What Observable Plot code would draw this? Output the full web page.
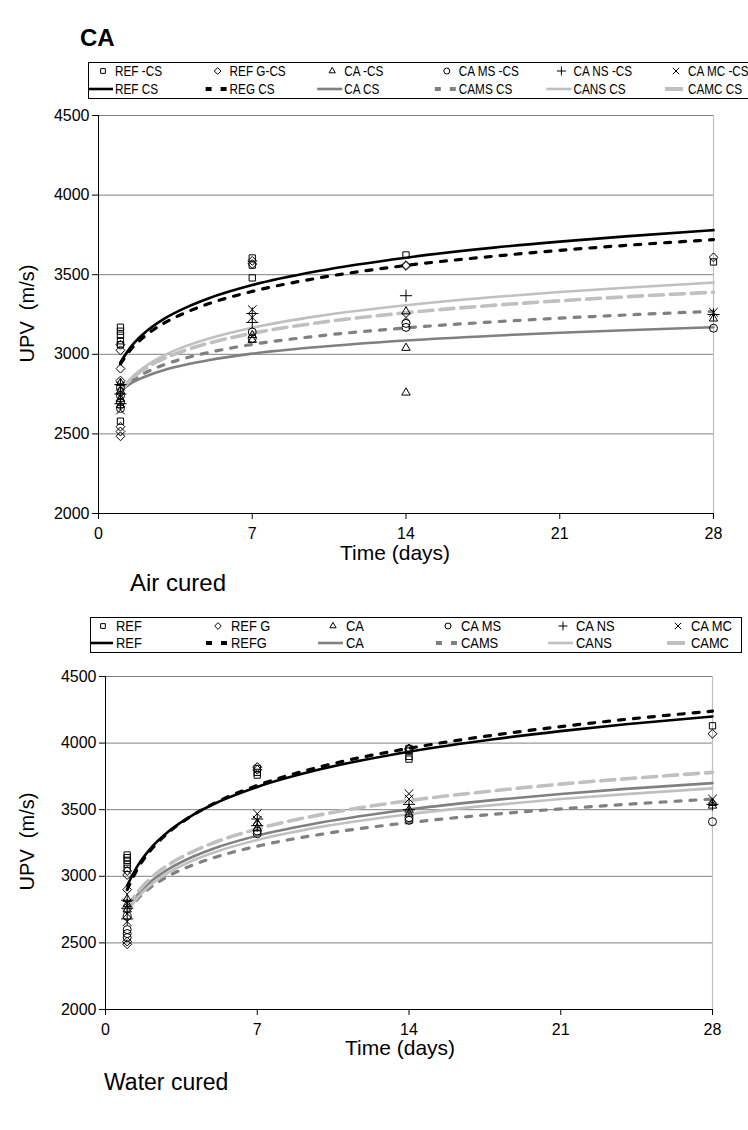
<!DOCTYPE html>
<html><head><meta charset="utf-8">
<script src="https://cdn.jsdelivr.net/npm/d3@7"></script>
<script src="https://cdn.jsdelivr.net/npm/@observablehq/plot@0.6"></script>
<style>
body{margin:0;background:#fff;font-family:"Liberation Sans",Arial,sans-serif;}
#page{position:relative;width:748px;height:1130px;overflow:hidden;background:#fff;}
.abs{position:absolute;white-space:pre;color:#000;}
</style></head><body><div id="page"></div>
<script>
// ---------- data ----------
const pointDays = [1, 7, 14, 28];
const curveDays = [1, 1.5, 2, 3, 4, 5, 7, 10, 14, 18, 21, 24, 28];
const yTicks = [2000, 2500, 3000, 3500, 4000, 4500];
const xTicks = [0, 7, 14, 21, 28];

// Air cured: measured points per series, one list per day in pointDays
const airREF  = [[3170, 3145, 3120, 3085, 3060, 2580], [3605, 3560, 3480], [3624], [3580]];
const airREFG = [[3060, 3025, 2910, 2835, 2545, 2515, 2485], [3587, 3567], [3560, 3555], [3609]];
const airCA   = [[2820, 2770, 2720, 2680], [3120, 3090], [3269, 3040, 2759], [3224]];
const airCAMS = [[2790, 2740, 2700, 2660], [3140, 3100], [3194, 3169], [3164]];
const airCANS = [[2810, 2750, 2690], [3256, 3200], [3368], [3250]];
const airCAMC = [[2800, 2730, 2650], [3281, 3231], [3231], [3264]];
// Air cured: trend curves read at curveDays
const airREFc  = [2950, 3051, 3123, 3224, 3295, 3351, 3435, 3523, 3607, 3670, 3708, 3741, 3780];
const airREGc  = [2940, 3035, 3102, 3197, 3264, 3317, 3395, 3479, 3558, 3616, 3653, 3684, 3720];
const airCAc   = [2770, 2819, 2853, 2902, 2936, 2963, 3004, 3046, 3087, 3117, 3135, 3151, 3170];
const airCAMSc = [2770, 2831, 2874, 2935, 2978, 3011, 3062, 3115, 3166, 3204, 3227, 3247, 3270];
const airCANSc = [2770, 2853, 2911, 2994, 3053, 3098, 3167, 3240, 3308, 3360, 3391, 3418, 3450];
const airCAMCc = [2770, 2845, 2899, 2974, 3028, 3069, 3132, 3198, 3261, 3308, 3336, 3361, 3390];

// Water cured: measured points
const watREF  = [[3160, 3140, 3120, 3090, 3060], [3810, 3780, 3760], [3960, 3940, 3900, 3880], [4130]];
const watREFG = [[3040, 3010, 2900, 2510, 2490], [3820, 3800], [3950, 3960], [4070]];
const watCA   = [[2830, 2790, 2750], [3400, 3360], [3500, 3470], [3550, 3530]];
const watCAMS = [[2700, 2600, 2570, 2540], [3340, 3320], [3440, 3420], [3410]];
const watCANS = [[2820, 2760, 2680], [3430, 3380], [3540, 3500], [3540]];
const watCAMC = [[2800, 2720, 2660], [3470, 3420], [3620, 3580], [3580]];
// Water cured: trend curves
const watREFc  = [2930, 3084, 3194, 3349, 3458, 3543, 3671, 3807, 3935, 4031, 4090, 4141, 4200];
const watREFGc = [2900, 3063, 3179, 3342, 3457, 3547, 3682, 3826, 3961, 4062, 4124, 4178, 4240];
const watCAc   = [2750, 2865, 2948, 3063, 3145, 3209, 3305, 3406, 3502, 3574, 3618, 3656, 3700];
const watCAMSc = [2730, 2833, 2907, 3010, 3083, 3140, 3226, 3317, 3403, 3467, 3506, 3540, 3580];
const watCANSc = [2730, 2843, 2923, 3037, 3117, 3179, 3273, 3373, 3466, 3536, 3580, 3617, 3660];
const watCAMCc = [2760, 2884, 2972, 3096, 3184, 3252, 3355, 3465, 3568, 3644, 3692, 3732, 3780];

const airMarkerNames = ["REF -CS", "REF G-CS", "CA -CS", "CA MS -CS", "CA NS -CS", "CA MC -CS"];
const airLineNames   = ["REF CS", "REG CS", "CA CS", "CAMS CS", "CANS CS", "CAMC CS"];
const watMarkerNames = ["REF", "REF G", "CA", "CA MS", "CA NS", "CA MC"];
const watLineNames   = ["REF", "REFG", "CA", "CAMS", "CANS", "CAMC"];

// ---------- styles ----------
const symbols = ["square2", "diamond2", "triangle2", "circle", "plus", "times"];
const d3symbols = [d3.symbolSquare2, d3.symbolDiamond2, d3.symbolTriangle2, d3.symbolCircle, d3.symbolPlus, d3.symbolTimes];
const lineStyles = [
  {stroke: "#000000", width: 2.6, dash: null},
  {stroke: "#000000", width: 3.2, dash: "6,9"},
  {stroke: "#808080", width: 2.6, dash: null},
  {stroke: "#808080", width: 3.2, dash: "6,9"},
  {stroke: "#c0c0c0", width: 2.6, dash: null},
  {stroke: "#c0c0c0", width: 3.6, dash: "14,7"}
];

const page = document.getElementById("page");
function addText(txt, x, y, css) {
  const d = document.createElement("div");
  d.className = "abs";
  d.textContent = txt;
  d.style.left = x + "px"; d.style.top = y + "px";
  Object.assign(d.style, css || {});
  page.appendChild(d);
  return d;
}

function makeLegend(cfg, markerNames, lineNames) {
  const svg = d3.create("svg").attr("width", cfg.w).attr("height", cfg.h)
    .style("position", "absolute").style("left", cfg.x + "px").style("top", cfg.y + "px");
  svg.append("rect").attr("x", 0.5).attr("y", 0.5).attr("width", cfg.w - (cfg.openRight ? 0 : 1)).attr("height", cfg.h - 1)
    .attr("fill", "#fff").attr("stroke", "#000").attr("stroke-width", 1);
  const label = (x, y, t) => svg.append("text")
    .attr("transform", `translate(${x},${y}) scale(${cfg.sx},1)`).attr("dy", "0.36em")
    .attr("font-size", cfg.fs).attr("font-family", "'Liberation Sans',Arial,sans-serif").text(t);
  for (let i = 0; i < 6; i++) {
    const cx = cfg.col0 + i * cfg.colStep;
    svg.append("path").attr("d", d3.symbol(d3symbols[i], 28)())
      .attr("transform", `translate(${cx},${cfg.r1})`)
      .attr("fill", "none").attr("stroke", "#000").attr("stroke-width", 1);
    label(cx + cfg.txtOff, cfg.r1, markerNames[i]);
    const st = lineStyles[i];
    const ln = svg.append("line").attr("x1", cx - 15).attr("x2", cx + 10)
      .attr("y1", cfg.r2).attr("y2", cfg.r2)
      .attr("stroke", st.stroke).attr("stroke-width", st.width);
    if (i === 1 || i === 3) ln.attr("x1", cx - 12).attr("x2", cx + 9).attr("stroke-dasharray", "6,9").attr("stroke-width", 4);
    if (i === 5) ln.attr("x1", cx - 11).attr("x2", cx + 7).attr("stroke-width", 4);
    label(cx + cfg.txtOff, cfg.r2, lineNames[i]);
  }
  page.appendChild(svg.node());
}

function flatten(series, name) {
  const out = [];
  series.forEach((vals, k) => vals.forEach(v => out.push({day: pointDays[k], v, name})));
  return out;
}
function curveRows(vals) { return curveDays.map((d, i) => ({day: d, v: vals[i]})); }

function makeChart(cfg, pts, curves) {
  const marks = [
    Plot.ruleY(yTicks.filter(t => t > 2000), {stroke: "#808080", strokeWidth: 1}),
    Plot.ruleX([28], {stroke: "#c0c0c0", strokeWidth: 1.2}),
  ];
  curves.forEach((c, i) => {
    const st = lineStyles[i];
    marks.push(Plot.line(curveRows(c), {x: "day", y: "v", curve: "monotone-x", stroke: st.stroke,
      strokeWidth: st.width, strokeDasharray: st.dash || undefined}));
  });
  pts.forEach((s, i) => {
    marks.push(Plot.dot(flatten(s, i), {x: "day", y: "v", symbol: symbols[i], r: 4,
      stroke: "#000", strokeWidth: 1, fill: "none"}));
  });
  marks.push(Plot.ruleY([2000], {stroke: "#000", strokeWidth: 1}));
  marks.push(Plot.ruleX([0], {stroke: "#000", strokeWidth: 1}));
  marks.push(Plot.axisY({ticks: yTicks, tickSize: 6, tickPadding: 3, tickFormat: d => String(d), label: null}));
  marks.push(Plot.axisX({ticks: xTicks, tickSize: 6, tickPadding: 8, tickFormat: d => String(d), label: null}));
  const svg = Plot.plot({
    width: 748, height: cfg.h,
    marginLeft: cfg.ml, marginRight: cfg.mr, marginTop: cfg.mt, marginBottom: cfg.mb,
    x: {domain: [0, 28]},
    y: {domain: [2000, 4500]},
    style: {fontFamily: "'Liberation Sans',Arial,sans-serif", fontSize: "16px", color: "#000", background: "transparent", overflow: "visible"},
    marks
  });
  svg.style.position = "absolute";
  svg.style.left = "0px";
  svg.style.top = cfg.y + "px";
  page.appendChild(svg);
}

// ---------- top chart (Air cured) ----------
addText("CA", 80, 24, {fontSize: "24px", fontWeight: "bold"});
makeLegend({x: 88, y: 62, w: 660, h: 37, col0: 15, colStep: 114.6, r1: 9, r2: 27, txtOff: 12, fs: 14, sx: 0.84, openRight: true},
  airMarkerNames, airLineNames);
makeChart({y: 100, h: 480, ml: 98, mr: 35, mt: 15, mb: 67},
  [airREF, airREFG, airCA, airCAMS, airCANS, airCAMC],
  [airREFc, airREGc, airCAc, airCAMSc, airCANSc, airCAMCc]);
addText("UPV  (m/s)", 0, 0, {fontSize: "20px", left: "-33px", top: "302px", transform: "rotate(-90deg)", transformOrigin: "center", width: "120px", textAlign: "center"});
addText("Time (days)", 340, 541, {fontSize: "21px"});
addText("Air cured", 130, 569, {fontSize: "24px"});

// ---------- bottom chart (Water cured) ----------
makeLegend({x: 90, y: 617, w: 652, h: 36, col0: 13, colStep: 115, r1: 9, r2: 26, txtOff: 13, fs: 15, sx: 0.86, openRight: false},
  watMarkerNames, watLineNames);
makeChart({y: 660, h: 420, ml: 105, mr: 36, mt: 16, mb: 71},
  [watREF, watREFG, watCA, watCAMS, watCANS, watCAMC],
  [watREFc, watREFGc, watCAc, watCAMSc, watCANSc, watCAMCc]);
addText("UPV  (m/s)", 0, 0, {fontSize: "20px", left: "-33px", top: "830px", transform: "rotate(-90deg)", transformOrigin: "center", width: "120px", textAlign: "center"});
addText("Time (days)", 345, 1036, {fontSize: "21px"});
addText("Water cured", 104, 1069, {fontSize: "23px"});
</script></body></html>
